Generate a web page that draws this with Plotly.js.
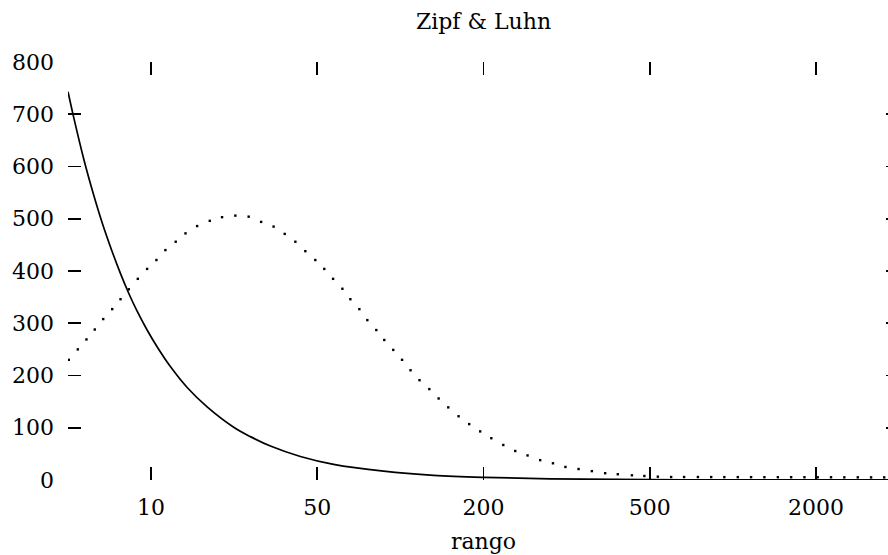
<!DOCTYPE html>
<html>
<head>
<meta charset="utf-8">
<script src="https://cdn.plot.ly/plotly-3.0.1.min.js"></script>
<style>
html, body { margin: 0; padding: 0; overflow: hidden; background: #fff; }
#chart { width: 900px; height: 555px; }
</style>
</head>
<body>
<div id="chart"></div>
<script>
// Axis positions of the five labelled ranks (equally spaced on the drawing)
const tickPos = [1, 2, 3, 4, 5];
const tickLabels = ["10", "50", "200", "500", "2000"];

// Zipf curve (solid line): position on rank axis, frequency
const zipfX = [0.500, 0.535, 0.595, 0.655, 0.706, 0.766, 0.816, 0.866, 0.916, 0.976,
               1.036, 1.116, 1.217, 1.337, 1.497, 1.597, 1.718, 1.898, 2.098, 2.399,
               2.700, 3.000, 3.401, 4.003, 4.600, 5.500];
const zipfY = [743, 693, 614, 545, 492, 437, 395, 357, 323, 287,
               255, 217, 177, 140, 101, 83, 65, 45, 30, 17,
               9, 5, 2.2, 0.7, 0.3, 0.1];

// Luhn curve (dotted): each dot
const luhnX = [0.505, 0.559, 0.611, 0.661, 0.712, 0.766, 0.816, 0.866, 0.920, 0.976,
               1.032, 1.086, 1.148, 1.207, 1.277, 1.353, 1.427, 1.507, 1.587, 1.662,
               1.737, 1.804, 1.868, 1.928, 1.988, 2.042, 2.095, 2.151, 2.199, 2.253,
               2.301, 2.355, 2.403, 2.457, 2.510, 2.561, 2.615, 2.674, 2.730, 2.788,
               2.850, 2.914, 2.980, 3.047, 3.119, 3.191, 3.265, 3.341, 3.418, 3.493,
               3.572, 3.652, 3.732, 3.808, 3.893, 3.968, 4.049, 4.129, 4.207, 4.290,
               4.370, 4.449, 4.530, 4.610, 4.690, 4.771, 4.851, 4.931, 5.011, 5.091,
               5.171, 5.252, 5.332, 5.411, 5.491];
const luhnY = [230, 250, 269, 288, 308, 327, 346, 365, 385, 404,
               421, 440, 456, 472, 486, 496, 503, 506, 504, 494,
               485, 471, 456, 438, 421, 404, 385, 366, 346, 327,
               306, 287, 268, 249, 230, 210, 191, 174, 156, 139,
               122, 107, 93, 80, 67, 55.5, 47, 38, 32, 25,
               21, 17, 13, 11, 9, 7.7, 6.4, 5.7, 5.7, 5.7,
               5.6, 5.5, 5.5, 5.5, 5.4, 5.4, 5.3, 5.3, 5.2, 5.2,
               5.1, 5.1, 5.0, 5.0, 5.0];

const FONT = "DejaVu Serif";

const traces = [
  {
    x: zipfX, y: zipfY, type: "scatter", mode: "lines",
    line: { color: "#000", width: 1.7, shape: "spline", smoothing: 1 },
    name: "Zipf", showlegend: false, hoverinfo: "skip"
  },
  {
    x: luhnX, y: luhnY, type: "scatter", mode: "markers",
    marker: { color: "#000", size: 2.4, symbol: "square", line: { width: 0 } },
    name: "Luhn", showlegend: false, hoverinfo: "skip"
  }
];

const layout = {
  width: 900, height: 555,
  margin: { l: 68, r: 1, t: 62, b: 75, pad: 0 },
  paper_bgcolor: "#fff", plot_bgcolor: "#fff",
  font: { family: FONT, size: 22, color: "#000" },
  title: {
    text: "Zipf &amp; Luhn",
    font: { family: FONT, size: 22, color: "#000" },
    x: 0.5, xref: "paper", xanchor: "center",
    y: 1 - 21 / 555, yref: "container", yanchor: "middle"
  },
  xaxis: {
    range: [0.5, 5.5], type: "linear",
    tickmode: "array", tickvals: tickPos, ticktext: tickLabels,
    ticks: "inside", ticklen: 13, tickwidth: 1.6, tickcolor: "#000",
    mirror: "ticks", showline: false, showgrid: false, zeroline: false,
    tickfont: { family: FONT, size: 22, color: "#000" },
    ticklabelstandoff: 12,
    title: { text: "rango", font: { family: FONT, size: 22, color: "#000" }, standoff: 14 },
    fixedrange: true
  },
  yaxis: {
    range: [0, 800], type: "linear",
    tickmode: "array", tickvals: [0, 100, 200, 300, 400, 500, 600, 700, 800],
    ticks: "inside", ticklen: 13, tickwidth: 1.6, tickcolor: "#000",
    mirror: "ticks", showline: false, showgrid: false, zeroline: false,
    tickfont: { family: FONT, size: 22, color: "#000" },
    ticklabelstandoff: 13,
    fixedrange: true
  }
};

Plotly.newPlot("chart", traces, layout, { staticPlot: true, displayModeBar: false });
</script>
</body>
</html>
